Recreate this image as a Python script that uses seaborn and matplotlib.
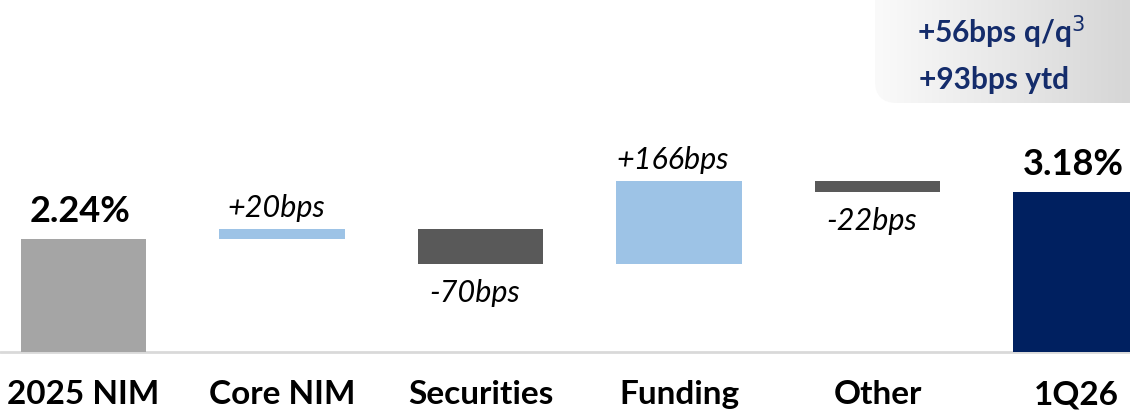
import numpy as np
import matplotlib
from matplotlib import pyplot as plt
from matplotlib.patches import FancyBboxPatch
import seaborn as sns

sns.set_style("white")
matplotlib.rcParams['font.family'] = ['Lato', 'DejaVu Sans']

# Data
categories = ["2025 NIM", "Core NIM", "Securities", "Funding", "Other", "1Q26"]
start_nim = 2.24
changes_bps = [20, -70, 166, -22]
end_nim = 3.18
change_labels = ["+20bps", "-70bps", "+166bps", "-22bps"]
summary_lines = ["+56bps q/q$^{3}$", "+93bps ytd"]

# waterfall geometry from the data
deltas = [c / 100 for c in changes_bps]
running = start_nim + np.concatenate([[0], np.cumsum(deltas)])
bottoms = [0] + [min(running[i], running[i + 1]) for i in range(len(deltas))] + [0]
heights = [start_nim] + [abs(d) for d in deltas] + [end_nim]
colors = ["#A5A5A5"] + ["#9DC3E6" if d > 0 else "#595959" for d in deltas] + ["#002060"]

fig = plt.figure(figsize=(11.3, 4.11), dpi=100)
ax = fig.add_axes([0, 0, 1, 1])

sns.barplot(x=categories, y=heights, bottom=bottoms, width=0.63,
            color="#A5A5A5", linewidth=0, ax=ax)
for patch, c in zip(ax.patches, colors):
    patch.set_facecolor(c)

ax.set_xlim(-0.4207, 5.272)
ax.set_ylim(-1.171, 6.984)
ax.axis("off")
ax.axhline(0, color="#D9D9D9", lw=2, zorder=0)

# value labels
for i, v in [(0, start_nim), (5, end_nim)]:
    ax.annotate(f"{v:.2f}%", (i, v), xytext=(-3, 17), textcoords="offset pixels",
                ha="center", va="baseline", fontsize=26, fontweight="bold", color="black")

for k, (d, lab) in enumerate(zip(deltas, change_labels)):
    i = k + 1
    if d > 0:
        ax.annotate(lab, (i, bottoms[i] + heights[i]), xytext=(-6, 12), textcoords="offset pixels",
                    ha="center", va="baseline", fontsize=22, fontstyle="italic", color="black")
    else:
        ax.annotate(lab, (i, bottoms[i]), xytext=(-6, -38), textcoords="offset pixels",
                    ha="center", va="baseline", fontsize=22, fontstyle="italic", color="black")

# category labels
for i, cat in enumerate(categories):
    ax.annotate(cat, (i, 0), xytext=(0, -43), textcoords="offset pixels",
                ha="center", va="center", fontsize=24, fontweight="bold", color="black")

# summary box top right with a soft gradient
box = FancyBboxPatch((875, 308), 300, 143, boxstyle="round,pad=0,rounding_size=22",
                     transform=None, facecolor="none", edgecolor="none")
grad = np.linspace(0, 1, 256).reshape(1, -1)
gax = fig.add_axes([0, 0, 1, 1], zorder=-1)
gax.axis("off")
im = gax.imshow(grad, extent=[875 / 1130, 1, 303 / 411, 1], aspect="auto",
                cmap=matplotlib.colors.LinearSegmentedColormap.from_list("g", ["#FAFAFA", "#D6D6D6"]),
                transform=fig.transFigure)
im.set_clip_path(box)
gax.set_xlim(0, 1)
gax.set_ylim(0, 1)

navy = "#142C6B"
fig.text(917 / 1130, 1 - 32 / 411, summary_lines[0], ha="left", va="center",
         fontsize=21.5, fontweight="bold", color=navy)
fig.text(919 / 1130, 1 - 80 / 411, summary_lines[1], ha="left", va="center",
         fontsize=21.5, fontweight="bold", color=navy)

plt.savefig("out.png", dpi=100)
